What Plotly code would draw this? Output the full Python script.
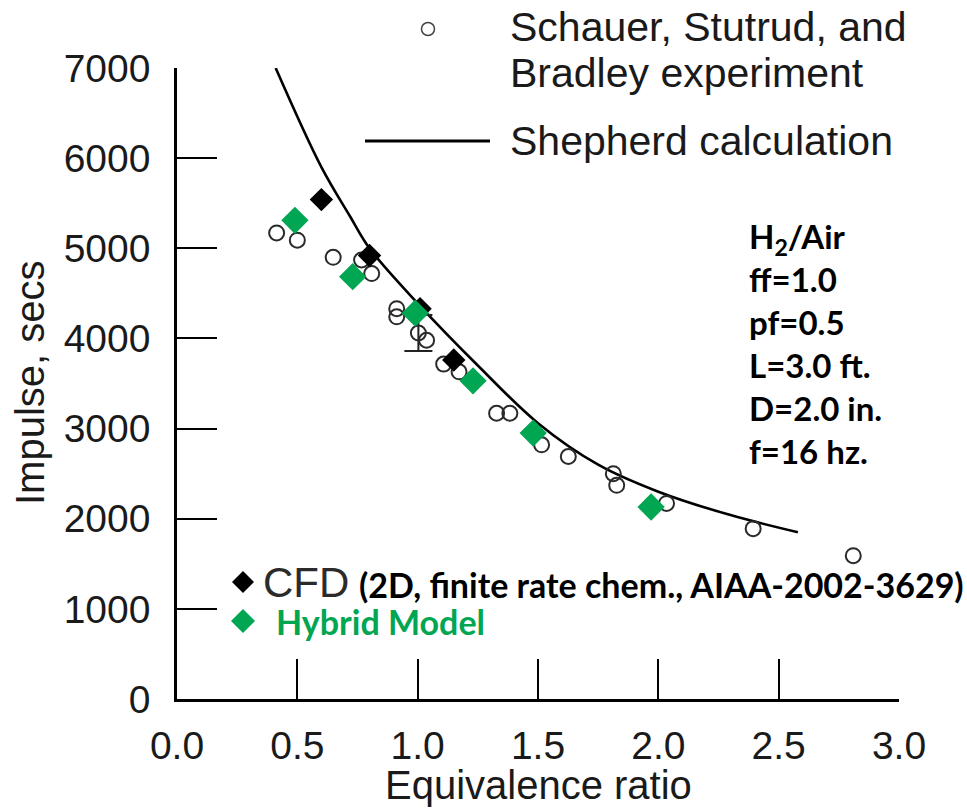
import plotly.graph_objects as go

# Schauer, Stutrud and Bradley experiment (equivalence ratio, impulse in s)
exp_phi = [0.414, 0.500, 0.649, 0.767, 0.809, 0.913, 0.913, 1.003, 1.037, 1.108,
           1.172, 1.328, 1.383, 1.515, 1.626, 1.813, 1.827, 2.034, 2.394, 2.810]
exp_imp = [5170, 5090, 4900, 4870, 4720, 4330, 4240, 4060, 3980, 3715,
           3630, 3170, 3170, 2820, 2690, 2500, 2370, 2170, 1890, 1590]
exp_err_index = 7          # point carrying the experimental error bar
exp_err = 200

# Shepherd calculation
shep_phi = [0.41, 0.60, 0.72, 0.80, 1.00, 1.25, 1.50, 1.75, 2.00, 2.30, 2.58]
shep_imp = [7000, 5900, 5350, 5000, 4390, 3700, 3060, 2600, 2300, 2040, 1850]

# CFD (2D, finite rate chemistry)
cfd_phi = [0.60, 0.80, 1.01, 1.15]
cfd_imp = [5540, 4920, 4330, 3760]

# Hybrid model
hyb_phi = [0.49, 0.73, 0.99, 1.23, 1.48, 1.97]
hyb_imp = [5310, 4685, 4280, 3530, 2950, 2130]

x_ticks = [0.0, 0.5, 1.0, 1.5, 2.0, 2.5, 3.0]
x_labels = ["0.0", "0.5", "1.0", "1.5", "2.0", "2.5", "3.0"]
y_ticks = [0, 1000, 2000, 3000, 4000, 5000, 6000, 7000]
y_labels = ["0", "1000", "2000", "3000", "4000", "5000", "6000", "7000"]

GREEN = "#00a651"
HELV = "Liberation Sans, Arial, Helvetica, sans-serif"
CALI = "Lato, Open Sans, sans-serif"

W, H = 967, 809
ML, MR, MT, MB = 177, 68, 68, 110
PW, PH = W - ML - MR, H - MT - MB


def fx(px):
    return (px - ML) / PW


def fy(py):
    return (H - MB - py) / PH


fig = go.Figure()

fig.add_trace(go.Scatter(
    x=shep_phi, y=shep_imp, mode="lines",
    line=dict(color="black", width=2.6, shape="spline", smoothing=1.0),
    hoverinfo="skip"))

fig.add_trace(go.Scatter(
    x=[exp_phi[exp_err_index]], y=[exp_imp[exp_err_index]], mode="markers",
    marker=dict(size=6, color="rgba(0,0,0,0)"),
    error_y=dict(type="constant", value=exp_err, color="#222", thickness=2, width=14),
    hoverinfo="skip"))

fig.add_trace(go.Scatter(
    x=exp_phi, y=exp_imp, mode="markers",
    marker=dict(symbol="circle-open", size=15, color="#2a2a2a", line=dict(width=2))))

fig.add_trace(go.Scatter(
    x=cfd_phi, y=cfd_imp, mode="markers",
    marker=dict(symbol="diamond", size=18, color="black", line=dict(width=0))))

fig.add_trace(go.Scatter(
    x=hyb_phi, y=hyb_imp, mode="markers",
    marker=dict(symbol="diamond", size=21, color=GREEN, line=dict(width=0))))

axis_common = dict(
    showline=True, linecolor="black", linewidth=2.5,
    ticks="inside", ticklen=40, tickwidth=2, tickcolor="black",
    showgrid=False, zeroline=False, mirror=False,
    tickfont=dict(family=HELV, size=39, color="#1a1a1a"),
)

fig.update_layout(
    width=W, height=H,
    margin=dict(l=ML, r=MR, t=MT, b=MB, autoexpand=False),
    paper_bgcolor="white", plot_bgcolor="white",
    showlegend=False,
    xaxis=dict(range=[0, 3], tickvals=x_ticks, ticktext=x_labels,
               ticklabelstandoff=10, **axis_common),
    yaxis=dict(range=[0, 7000], tickvals=y_ticks, ticktext=y_labels,
               ticklabelstandoff=16, **axis_common),
)

shapes = [
    # legend keys
    dict(type="circle", xref="paper", yref="paper", xsizemode="pixel", ysizemode="pixel",
         xanchor=fx(428), yanchor=fy(29), x0=-6.5, x1=6.5, y0=-6.5, y1=6.5,
         line=dict(color="#444", width=1.5)),
    dict(type="line", xref="paper", yref="paper", x0=fx(365), x1=fx(490),
         y0=fy(141), y1=fy(141), line=dict(color="black", width=3)),
    dict(type="path", xref="paper", yref="paper", xsizemode="pixel", ysizemode="pixel",
         xanchor=fx(243), yanchor=fy(582), path="M0,11 L11,0 L0,-11 L-11,0 Z",
         fillcolor="black", line=dict(width=0)),
    dict(type="path", xref="paper", yref="paper", xsizemode="pixel", ysizemode="pixel",
         xanchor=fx(243), yanchor=fy(621), path="M0,12 L12,0 L0,-12 L-12,0 Z",
         fillcolor=GREEN, line=dict(width=0)),
]

LEG_FONT = dict(family=HELV, size=41, color="#1a1a1a")
annotations = [
    dict(text="Schauer, Stutrud, and", x=fx(508), y=fy(27), font=LEG_FONT),
    dict(text="Bradley experiment", x=fx(508), y=fy(73), font=LEG_FONT),
    dict(text="Shepherd calculation", x=fx(508), y=fy(141), font=LEG_FONT),
    dict(text="CFD", x=fx(261), y=fy(582), font=dict(family=HELV, size=42, color="#2b2b2b")),
    dict(text="<b>(2D, finite rate chem., AIAA-2002-3629)</b>", x=fx(357), y=fy(584),
         font=dict(family=CALI, size=34, color="black")),
    dict(text="<b>Hybrid Model</b>", x=fx(274), y=fy(621),
         font=dict(family=CALI, size=34, color=GREEN)),
    dict(text="<b>H<sub>2</sub>/Air<br>ff=1.0<br>pf=0.5<br>L=3.0 ft.<br>D=2.0 in.<br>f=16 hz.</b>",
         x=fx(747), y=fy(343), align="left",
         font=dict(family=CALI, size=33, color="black")),
    dict(text="Equivalence ratio", x=0.5, y=fy(785), xanchor="center"),
    dict(text="Impulse, secs", x=fx(30), y=fy(383), xanchor="center", textangle=-90),
]
for a in annotations:
    a.setdefault("xref", "paper")
    a.setdefault("yref", "paper")
    a.setdefault("xanchor", "left")
    a.setdefault("yanchor", "middle")
    a.setdefault("showarrow", False)
    a.setdefault("font", dict(family=HELV, size=40, color="#1a1a1a"))

fig.update_layout(shapes=shapes, annotations=annotations)

fig.write_html("out.html")
